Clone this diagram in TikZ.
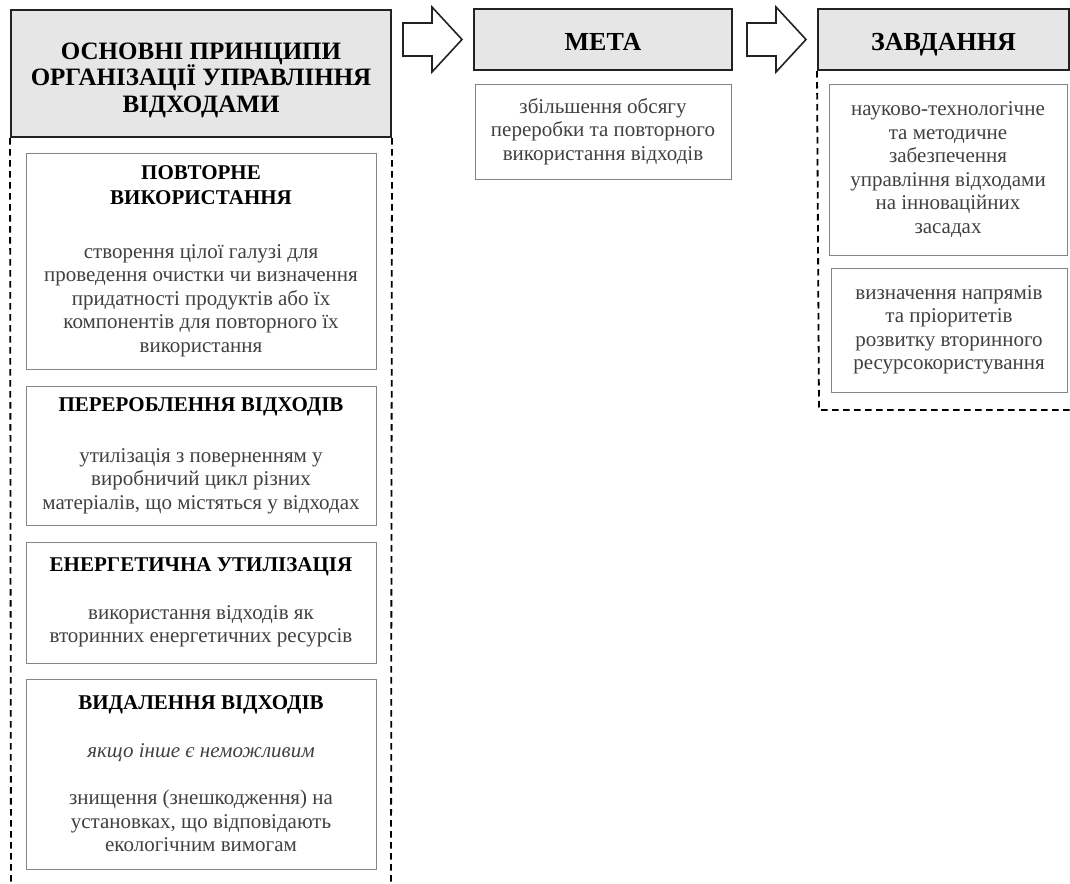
\documentclass[tikz,border=0pt]{standalone}
\usepackage{fontspec}
\setmainfont{Liberation Serif}
\definecolor{hdrfill}{HTML}{E6E6E6}
\definecolor{hdrdraw}{HTML}{222222}
\definecolor{boxdraw}{HTML}{858585}
\definecolor{txtgray}{HTML}{404040}
\newcommand{\hdl}[1]{\textcolor{black}{\bfseries #1}}
\begin{document}
\begin{tikzpicture}[x=1pt,y=-1pt,
  hdr/.style={draw=hdrdraw, fill=hdrfill, line width=2pt, inner sep=0pt},
  hdrtext/.style={align=center, inner sep=0pt, text depth=0pt},
  cbox/.style={draw=boxdraw, line width=1pt, align=center, inner sep=0pt, text=txtgray,
    font=\fontsize{21}{23.5}\selectfont},
  dashline/.style={draw=black, line width=1.8pt, dash pattern=on 6.5pt off 4.5pt},
  blockarrow/.style={draw=hdrdraw, fill=white, line width=1.6pt, line join=miter}]
\useasboundingbox (0,0) rectangle (1070,883);

% left column
\node[hdr, minimum width=380pt, minimum height=127pt] (hdrL) at (201,73.5) {};
\node[hdrtext, font=\fontsize{25}{26.5}\selectfont\bfseries] (hdrLt)
  at ([yshift=-4pt]hdrL.center) {ОСНОВНІ ПРИНЦИПИ\\ОРГАНІЗАЦІЇ УПРАВЛІННЯ\\ВІДХОДАМИ};
\coordinate (lbl) at (11,883);
\coordinate (lbr) at (391,883);
\draw[dashline] (hdrL.south west) -- (lbl);
\draw[dashline] (hdrL.south east) -- (lbr);

\node[cbox, minimum width=350pt, minimum height=216pt] (b1) at (201,261)
  {\hdl{ПОВТОРНЕ}\\[1.5pt]\hdl{ВИКОРИСТАННЯ}\\[30.5pt]
   створення цілої галузі для\\проведення очистки чи визначення\\придатності продуктів або їх\\компонентів для повторного їх\\використання};
\node[cbox, minimum width=350pt, minimum height=139pt] (b2) at (201,455.5)
  {\hdl{ПЕРЕРОБЛЕННЯ ВІДХОДІВ}\\[27.5pt]
   утилізація з поверненням у\\виробничий цикл різних\\матеріалів, що містяться у відходах};
\node[cbox, minimum width=350pt, minimum height=121pt] (b3) at (201,602.5)
  {\hdl{ЕНЕРГЕТИЧНА УТИЛІЗАЦІЯ}\\[24.5pt]
   використання відходів як\\вторинних енергетичних ресурсів};
\node[cbox, minimum width=350pt, minimum height=190pt] (b4) at (201,774)
  {\hdl{ВИДАЛЕННЯ ВІДХОДІВ}\\[24.5pt]
   \textit{якщо інше є неможливим}\\[23.5pt]
   знищення (знешкодження) на\\установках, що відповідають\\екологічним вимогам};

% middle column
\node[hdr, minimum width=258pt, minimum height=61pt] (hdrM) at (603,39.5) {};
\node[hdrtext, font=\fontsize{26}{28}\selectfont\bfseries] (hdrMt)
  at ([yshift=-2.5pt]hdrM.center) {МЕТА};
\node[cbox, minimum width=256pt, minimum height=95pt] (mbox) at (603,131.5)
  {збільшення обсягу\\переробки та повторного\\використання відходів};

% right column
\node[hdr, minimum width=251pt, minimum height=61pt] (hdrZ) at (943.5,39.5) {};
\node[hdrtext, font=\fontsize{26}{28}\selectfont\bfseries] (hdrZt)
  at ([yshift=-2.5pt]hdrZ.center) {ЗАВДАННЯ};
\coordinate (rbl) at (819,410);
\coordinate (rbr) at (1072,410);
\draw[dashline] (hdrZ.south west) -- (rbl) -- (rbr);
\node[cbox, minimum width=238pt, minimum height=171pt] (z1) at (948,169.5)
  {науково-технологічне\\та методичне\\забезпечення\\управління відходами\\на інноваційних\\засадах};
\node[cbox, minimum width=236pt, minimum height=124pt] (z2) at (949,330)
  {визначення напрямів\\та пріоритетів\\розвитку вторинного\\ресурсокористування};

% block arrows
\draw[blockarrow] (403,23) -- (432,23) -- (432,7) -- (462,39.5) -- (432,72) -- (432,56) -- (403,56) -- cycle;
\draw[blockarrow] (747,23) -- (776,23) -- (776,7) -- (806,39.5) -- (776,72) -- (776,56) -- (747,56) -- cycle;
\end{tikzpicture}
\end{document}
